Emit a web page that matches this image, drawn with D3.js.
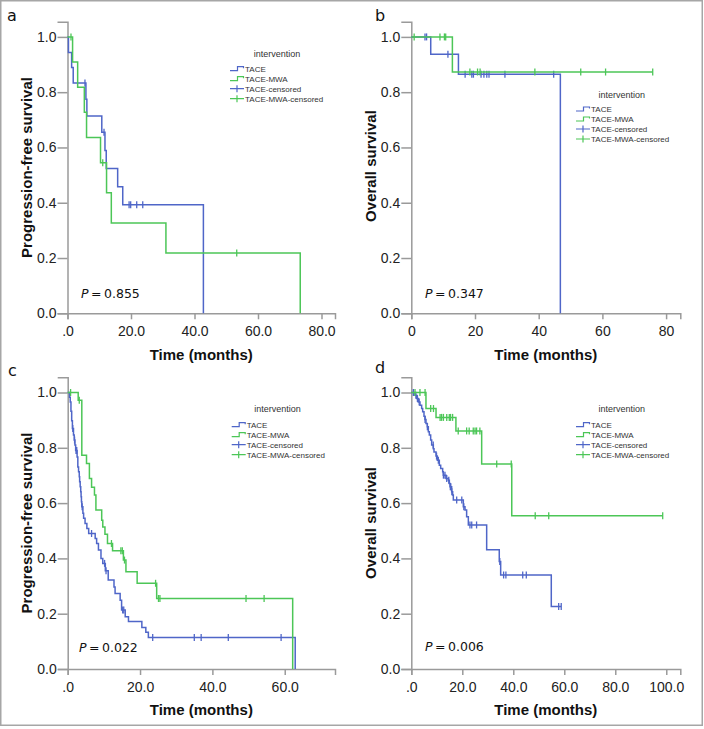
<!DOCTYPE html>
<html>
<head>
<meta charset="utf-8">
<script src="https://cdn.jsdelivr.net/npm/d3@7"></script>
<style>
  body { margin: 0; background: #fff; }
  .axis .domain, .axis line { stroke: #9a9a9a; stroke-width: 1.5; }
  .axis text { font-family: "Liberation Sans", Arial, sans-serif; font-size: 14px; fill: #222; }
  .axis-title { font-family: "Liberation Sans", Arial, sans-serif; font-size: 15px; font-weight: bold; fill: #111; }
  .legend-title { font-family: "Liberation Sans", Arial, sans-serif; font-size: 9px; fill: #333; }
  .legend-label { font-family: "Liberation Sans", Arial, sans-serif; font-size: 8px; fill: #333; }
  .p-value { font-family: "DejaVu Sans", sans-serif; font-size: 12.5px; fill: #111; }
  .panel-letter { font-family: "DejaVu Sans", sans-serif; font-size: 16px; fill: #111; }
</style>
</head>
<body>
<div id="chart"></div>
<script>
/* global d3 */

// ---------- shared ----------
const yTicks = [0, 0.2, 0.4, 0.6, 0.8, 1.0];
const yTickLabels = ['0.0', '0.2', '0.4', '0.6', '0.8', '1.0'];
const legendLabels = ['TACE', 'TACE-MWA', 'TACE-censored', 'TACE-MWA-censored'];
const xTitle = 'Time (months)';

// ---------- panel a : PFS, small cohort ----------
const aXTicks = [0, 20, 40, 60, 80];
const aXTickLabels = ['.0', '20.0', '40.0', '60.0', '80.0'];
const aTaceTimes = [0.3, 1.3, 1.8, 5.8, 6.1, 10.8, 11.8, 12.2, 15.8, 17.4, 42.8];
const aTaceSurv = [0.944, 0.889, 0.833, 0.774, 0.714, 0.655, 0.589, 0.524, 0.458, 0.393, 0];
const aTaceCensor = [5.5, 11.5, 19.4, 19.9, 21.8, 23.7];
const aMwaTimes = [1.6, 3.2, 5.3, 6.0, 10.4, 12.3, 13.8, 31.0, 73.3];
const aMwaSurv = [0.909, 0.818, 0.727, 0.636, 0.545, 0.436, 0.327, 0.218, 0];
const aMwaCensor = [1.1, 11.1, 53.3];

// ---------- panel b : OS, small cohort ----------
const bXTicks = [0, 20, 40, 60, 80];
const bXTickLabels = ['0', '20', '40', '60', '80'];
const bTaceTimes = [6.1, 14.8, 46.8];
const bTaceSurv = [0.937, 0.865, 0];
const bTaceCensor = [4.3, 4.8, 11.5, 16.9, 19.0, 19.5, 21.9, 22.8, 23.7, 24.4, 29.4, 44.7];
const bMwaTimes = [12.9];
const bMwaSurv = [0.873];
const bMwaCensor = [0.9, 9.0, 10.4, 10.8, 18.4, 20.8, 21.6, 38.8, 53.2, 61.0, 75.8];

// ---------- panel c : PFS, large cohort ----------
const cXTicks = [0, 20, 40, 60];
const cXTickLabels = ['.0', '20.0', '40.0', '60.0'];
const cTaceTimes = [0.5, 0.7, 0.9, 1.1, 1.3, 1.6, 1.8, 2.0, 2.2, 2.6, 2.8, 3.0, 3.2, 3.3, 3.45,
  3.6, 3.7, 3.8, 3.9, 4.2, 4.4, 4.8, 5.3, 5.8, 7.6, 8.0, 8.5, 9.2, 9.7, 10.4, 11.2, 12.8, 13.1,
  14.5, 14.9, 15.9, 16.8, 20.5, 21.6, 22.3, 62.9];
const cTaceSurv = [0.983, 0.966, 0.932, 0.898, 0.87, 0.846, 0.828, 0.81, 0.79, 0.767, 0.731, 0.713,
  0.695, 0.677, 0.659, 0.641, 0.623, 0.605, 0.587, 0.563, 0.545, 0.526, 0.508, 0.49, 0.472, 0.454,
  0.43, 0.40, 0.382, 0.355, 0.322, 0.297, 0.273, 0.249, 0.213, 0.189, 0.172, 0.15, 0.133, 0.114, 0];
const cTaceCensor = [1.4, 1.9, 2.3, 2.5, 4.0, 6.6, 10.2, 10.6, 15.2, 15.5, 23.5, 35.0, 36.9, 44.4, 59.0];
const cMwaTimes = [2.9, 3.9, 5.2, 6.0, 6.6, 7.4, 7.8, 9.4, 9.7, 10.3, 11.0, 12.4, 15.4, 16.1, 19.2, 24.6, 62.2];
const cMwaSurv = [0.972, 0.773, 0.743, 0.689, 0.657, 0.629, 0.575, 0.538, 0.514, 0.487, 0.454,
  0.428, 0.394, 0.352, 0.310, 0.255, 0];
const cMwaCensor = [0.8, 3.2, 12.1, 14.7, 15.1, 15.7, 24.3, 25.1, 25.5, 49.3, 54.3];

// ---------- panel d : OS, large cohort ----------
const dXTicks = [0, 20, 40, 60, 80, 100];
const dXTickLabels = ['.0', '20.0', '40.0', '60.0', '80.0', '100.0'];
const dTaceTimes = [1.45, 2.1, 2.76, 3.41, 4.06, 4.46, 4.98, 5.37, 5.76, 6.29, 6.68, 7.07, 7.59,
  7.99, 8.64, 8.9, 9.69, 10.2, 10.99, 11.52, 12.3, 12.56, 13.6, 14.52, 14.92, 15.18, 15.83, 16.22,
  16.48, 20.4, 21.06, 21.7, 22.37, 29.56, 34.5, 35.05, 54.9];
const dTaceSurv = [0.990, 0.978, 0.966, 0.954, 0.942, 0.930, 0.914, 0.902, 0.888, 0.876, 0.858,
  0.846, 0.828, 0.810, 0.797, 0.785, 0.770, 0.755, 0.737, 0.725, 0.713, 0.701, 0.689, 0.683, 0.671,
  0.659, 0.641, 0.629, 0.611, 0.587, 0.575, 0.551, 0.521, 0.431, 0.389, 0.340, 0.226];
const dTaceCensor = [0.8, 1.8, 2.4, 3.1, 5.4, 6.3, 8.6, 9.9, 10.6, 12.6, 13.2, 13.9, 14.7, 15.3,
  15.5, 15.9, 17.8, 19.8, 20.6, 23.0, 23.7, 25.6, 34.7, 36.2, 37.1, 43.7, 45.1, 57.8, 58.8];
const dMwaTimes = [5.75, 9.7, 17.5, 27.6, 39.4];
const dMwaSurv = [0.942, 0.91, 0.861, 0.741, 0.554];
const dMwaCensor = [1.45, 3.4, 5.4, 7.6, 8.7, 11.3, 11.9, 12.6, 13.9, 14.9, 15.4, 16.2, 18.4,
  21.7, 22.7, 24.3, 25.0, 25.6, 26.9, 33.5, 39.2, 48.6, 53.9, 98.6];

const pValues = ['0.855', '0.347', '0.022', '0.006'];

// ---------- colours / layout ----------
const blue = '#4f66c8';
const green = '#4cc657';
const yAxisMax = 1.055;   // y axis line runs a little above 1.0

const panels = [
  { letter: 'a', left: 67.5, right: 335, top: 21.7, bottom: 313.3, xMax: 84.25,
    xTicks: aXTicks, xTickLabels: aXTickLabels, yTitle: 'Progression-free survival',
    yTitleX: 31.5, yTitleY: 167.5, xTitleY: 360, letterX: 7, letterY: 20.7,
    pX: 81, pY: 298.3, p: pValues[0], legX: 230, legTitleX: 277, legTitleY: 57, legY: 68.7,
    tace: [aTaceTimes, aTaceSurv, aTaceCensor], mwa: [aMwaTimes, aMwaSurv, aMwaCensor] },
  { letter: 'b', left: 411.3, right: 680.3, top: 21.7, bottom: 313.3, xMax: 84.46,
    xTicks: bXTicks, xTickLabels: bXTickLabels, yTitle: 'Overall survival',
    yTitleX: 376, yTitleY: 166, xTitleY: 360, letterX: 375, letterY: 20.7,
    pX: 425, pY: 298.3, p: pValues[1], legX: 576, legTitleX: 621.7, legTitleY: 98.3, legY: 109,
    tace: [bTaceTimes, bTaceSurv, bTaceCensor], mwa: [bMwaTimes, bMwaSurv, bMwaCensor] },
  { letter: 'c', left: 67.7, right: 335, top: 377.3, bottom: 669, xMax: 73.9,
    xTicks: cXTicks, xTickLabels: cXTickLabels, yTitle: 'Progression-free survival',
    yTitleX: 31.5, yTitleY: 523, xTitleY: 714.5, letterX: 8, letterY: 376,
    pX: 79, pY: 652, p: pValues[2], legX: 231.7, legTitleX: 277.5, legTitleY: 412.3, legY: 424.7,
    tace: [cTaceTimes, cTaceSurv, cTaceCensor], mwa: [cMwaTimes, cMwaSurv, cMwaCensor] },
  { letter: 'd', left: 411.3, right: 680.3, top: 377.3, bottom: 669, xMax: 105.5,
    xTicks: dXTicks, xTickLabels: dXTickLabels, yTitle: 'Overall survival',
    yTitleX: 375.5, yTitleY: 523, xTitleY: 714.5, letterX: 375, letterY: 373,
    pX: 425, pY: 650.5, p: pValues[3], legX: 576, legTitleX: 621.7, legTitleY: 412.3, legY: 424.7,
    tace: [dTaceTimes, dTaceSurv, dTaceCensor], mwa: [dMwaTimes, dMwaSurv, dMwaCensor] }
];

/**
 * Survival level of a step curve at time t (value after the last step at or before t).
 */
function levelAt(times, surv, t) {
  let s = 1;
  times.forEach((st, i) => { if (st <= t) s = surv[i]; });
  return s;
}

/**
 * Draws one Kaplan-Meier panel.
 */
function drawKmPanel(svg, p) {
  const g = svg.append('g').attr('class', 'panel-' + p.letter);

  // Scales
  const x = d3.scaleLinear().domain([0, p.xMax]).range([p.left, p.right]);
  const y = d3.scaleLinear().domain([0, yAxisMax]).range([p.bottom, p.top]);

  // Axes
  g.append('g')
    .attr('class', 'axis')
    .attr('transform', `translate(0,${p.bottom})`)
    .call(d3.axisBottom(x)
      .tickValues(p.xTicks)
      .tickFormat((d, i) => p.xTickLabels[i])
      .tickSizeOuter(0)
      .tickSize(6)
      .tickPadding(7));

  g.append('g')
    .attr('class', 'axis')
    .attr('transform', `translate(${p.left},0)`)
    .call(d3.axisLeft(y)
      .tickValues(yTicks)
      .tickFormat((d, i) => yTickLabels[i])
      .tickSizeOuter(0)
      .tickSize(10)
      .tickPadding(1));

  // Axis titles
  g.append('text')
    .attr('class', 'axis-title')
    .attr('x', (p.left + p.right) / 2)
    .attr('y', p.xTitleY)
    .attr('text-anchor', 'middle')
    .text(xTitle);

  g.append('text')
    .attr('class', 'axis-title')
    .attr('transform', `translate(${p.yTitleX},${p.yTitleY}) rotate(-90)`)
    .attr('text-anchor', 'middle')
    .text(p.yTitle);

  // Curves + censor marks
  const line = d3.line()
    .x(d => x(d[0]))
    .y(d => y(d[1]))
    .curve(d3.curveStepAfter);

  [[p.tace, blue], [p.mwa, green]].forEach(([series, color]) => {
    const [times, surv, censor] = series;
    const pts = [[0, 1]].concat(times.map((t, i) => [t, surv[i]]));
    const tEnd = d3.max(censor);
    if (tEnd > times[times.length - 1]) pts.push([tEnd, surv[surv.length - 1]]);

    g.append('path')
      .datum(pts)
      .attr('fill', 'none')
      .attr('stroke', color)
      .attr('stroke-width', 1.5)
      .attr('d', line);

    g.selectAll(null)
      .data(censor)
      .enter().append('line')
      .attr('x1', t => x(t))
      .attr('x2', t => x(t))
      .attr('y1', t => y(levelAt(times, surv, t)) - 3.5)
      .attr('y2', t => y(levelAt(times, surv, t)) + 3.5)
      .attr('stroke', color)
      .attr('stroke-width', 1.3);
  });

  // Legend
  g.append('text')
    .attr('class', 'legend-title')
    .attr('x', p.legTitleX)
    .attr('y', p.legTitleY)
    .attr('text-anchor', 'middle')
    .text('intervention');

  legendLabels.forEach((label, i) => {
    const cy = p.legY + i * 10;
    const color = i % 2 === 0 ? blue : green;
    const lx = p.legX;
    if (i < 2) {
      g.append('path')
        .attr('d', `M${lx},${cy + 2}H${lx + 7.5}V${cy - 2}H${lx + 13.5}V${cy - 0.5}`)
        .attr('fill', 'none')
        .attr('stroke', color)
        .attr('stroke-width', 1.2);
    } else {
      g.append('path')
        .attr('d', `M${lx},${cy}H${lx + 14}M${lx + 7},${cy - 3.5}V${cy + 3.5}`)
        .attr('fill', 'none')
        .attr('stroke', color)
        .attr('stroke-width', 1.2);
    }
    g.append('text')
      .attr('class', 'legend-label')
      .attr('x', lx + 15)
      .attr('y', cy + 3)
      .text(label);
  });

  // P value
  const pt = g.append('text')
    .attr('class', 'p-value')
    .attr('x', p.pX)
    .attr('y', p.pY);
  pt.append('tspan').attr('font-style', 'italic').text('P');
  pt.append('tspan').text('\u2009=\u2009' + p.p);

  // Panel letter
  g.append('text')
    .attr('class', 'panel-letter')
    .attr('x', p.letterX)
    .attr('y', p.letterY)
    .text(p.letter);
}

// 1. Create SVG
const svg = d3.select('#chart').append('svg')
  .attr('width', 704)
  .attr('height', 729);

// 2. Outer frame
svg.append('rect')
  .attr('x', 0.75)
  .attr('y', 0.75)
  .attr('width', 701.5)
  .attr('height', 724.5)
  .attr('fill', 'none')
  .attr('stroke', '#a6a6a6')
  .attr('stroke-width', 1.5);

// 3. Panels
panels.forEach(p => drawKmPanel(svg, p));
</script>
</body>
</html>
